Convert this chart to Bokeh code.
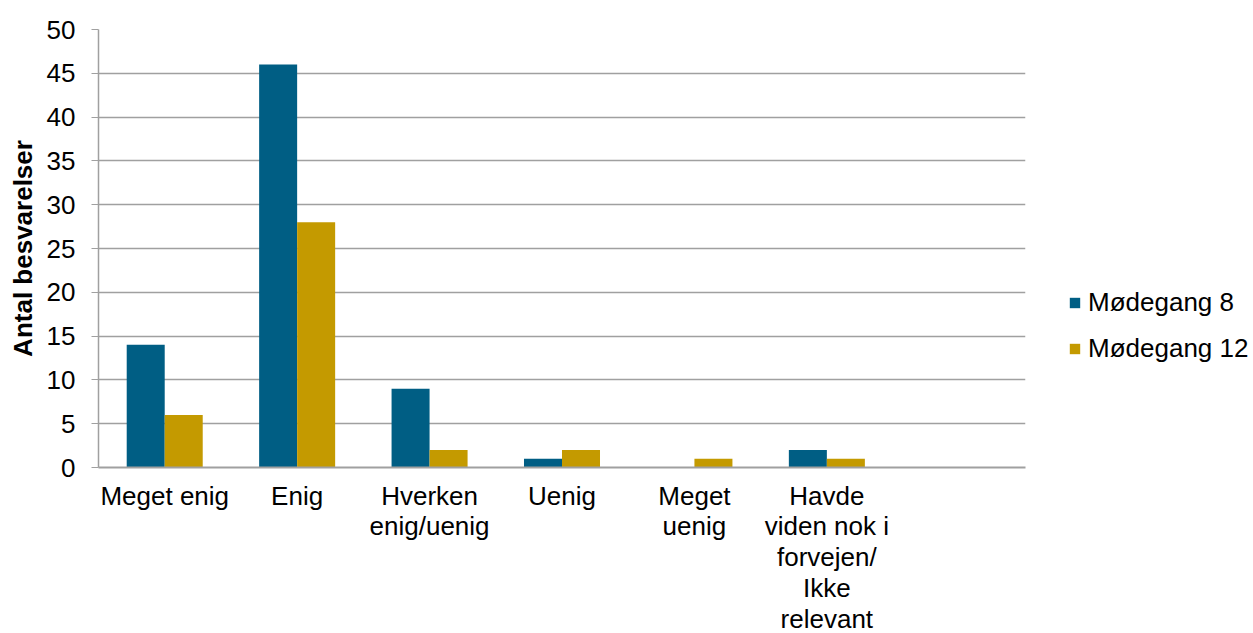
from bokeh.plotting import figure
from bokeh.models import Range1d, FixedTicker, Legend, LegendItem
from bokeh.embed import file_html
from bokeh.resources import INLINE

categories = ["Meget enig", "Enig", "Hverken\nenig/uenig", "Uenig", "Meget\nuenig",
              "Havde\nviden nok i\nforvejen/\nIkke\nrelevant", ""]
moedegang8 = [14, 46, 9, 1, 0, 2, None]
moedegang12 = [6, 28, 2, 2, 1, 1, None]
series_names = ["Mødegang 8", "Mødegang 12"]
colors = ["#005E84", "#C49A00"]

n = len(categories)
centers = [i + 0.5 for i in range(n)]
bw = 0.287
FS = "26px"
FONT = "Liberation Sans"

p = figure(width=1253, height=633, output_backend="svg", toolbar_location=None,
           x_range=Range1d(0, n), y_range=Range1d(0, 50),
           min_border_left=98, min_border_top=29, min_border_right=0, min_border_bottom=0,
           frame_width=927, frame_height=438)
p.outline_line_color = None
p.background_fill_color = "white"

x8 = [c - bw / 2 for c, v in zip(centers, moedegang8) if v is not None]
v8 = [v for v in moedegang8 if v is not None]
x12 = [c + bw / 2 for c, v in zip(centers, moedegang12) if v is not None]
v12 = [v for v in moedegang12 if v is not None]
r8 = p.vbar(x=x8, top=v8, width=bw, color=colors[0], line_color=None)
r12 = p.vbar(x=x12, top=v12, width=bw, color=colors[1], line_color=None)

grey = "#A0A0A0"
p.xgrid.grid_line_color = None
p.ygrid.grid_line_color = grey
p.ygrid.grid_line_width = 1.3
p.yaxis.ticker = FixedTicker(ticks=list(range(0, 51, 5)))
p.yaxis.minor_tick_line_color = None
p.yaxis.major_tick_in = 0
p.yaxis.major_tick_out = 7
p.yaxis.major_tick_line_color = grey
p.yaxis.axis_line_color = grey
p.yaxis.axis_line_width = 1.5
p.yaxis.major_label_text_font = FONT
p.yaxis.major_label_text_font_size = FS
p.yaxis.major_label_text_color = "black"
p.yaxis.major_label_standoff = 16
p.yaxis.axis_label = "Antal besvarelser"
p.yaxis.axis_label_text_font = FONT
p.yaxis.axis_label_text_font_size = FS
p.yaxis.axis_label_text_font_style = "bold"
p.yaxis.axis_label_text_color = "black"
p.yaxis.axis_label_standoff = 6

p.xaxis.ticker = FixedTicker(ticks=centers)
p.xaxis.major_label_overrides = {c: lab for c, lab in zip(centers, categories)}
p.xaxis.major_tick_line_color = None
p.xaxis.minor_tick_line_color = None
p.xaxis.axis_line_color = grey
p.xaxis.axis_line_width = 2
p.xaxis.major_label_text_font = FONT
p.xaxis.major_label_text_font_size = FS
p.xaxis.major_label_text_color = "black"
p.xaxis.major_label_text_line_height = 1.03
p.xaxis.major_label_standoff = 7

legend = Legend(items=[LegendItem(label=series_names[0], renderers=[r8]),
                       LegendItem(label=series_names[1], renderers=[r12])],
                location=(43, 103), orientation="vertical")
legend.border_line_color = None
legend.background_fill_alpha = 0
legend.margin = 0
legend.padding = 0
legend.spacing = 15
legend.glyph_width = 13
legend.glyph_height = 13
legend.label_height = 26
legend.label_standoff = 7
legend.label_text_font = FONT
legend.label_text_font_size = FS
legend.label_text_color = "black"
p.add_layout(legend, "right")

open("out.html", "w").write(file_html(p, INLINE))
